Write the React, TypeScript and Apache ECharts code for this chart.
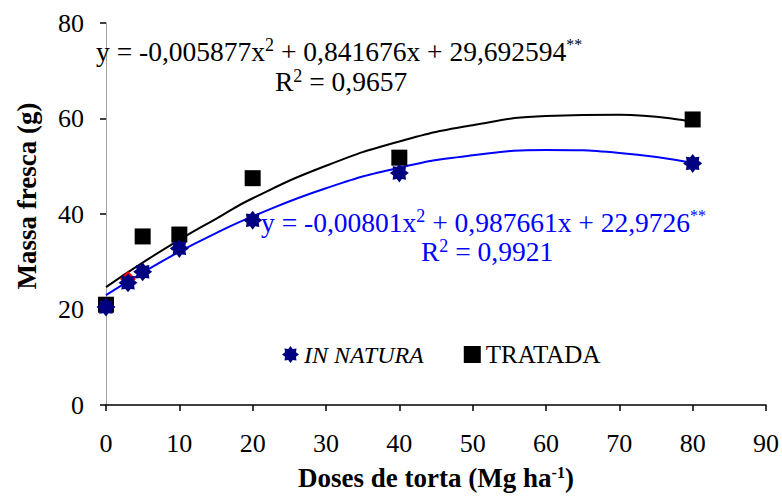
import React, { useEffect, useRef } from "react";
import * as echarts from "echarts";

const FONT = "Liberation Serif";

// Observed points
const inNaturaX = [0, 3, 5, 10, 20, 40, 80];
const inNaturaY = [20.5, 25.6, 27.9, 32.8, 38.7, 48.6, 50.6];
const tratadaX = [0, 3, 5, 10, 20, 40, 80];
const tratadaY = [21, 26.4, 35.3, 35.7, 47.5, 51.8, 59.8];

// Fitted curves
const curveX = [0, 5, 10, 15, 20, 30, 40, 50, 60, 70, 80];
const blueCurveY = [23, 27.7, 32.1, 36, 39.5, 45.4, 49.7, 52.3, 53.4, 52.8, 50.7];
const blackCurveY = [24.7, 29.8, 34.6, 39, 43.3, 50.1, 55.2, 58.6, 60.5, 60.8, 59.3];

const xTicks = { min: 0, max: 90, interval: 10 };
const yTicks = { min: 0, max: 80, interval: 20 };

function starPath(): string {
  const n = 8;
  const R = 10;
  const r = 7;
  const pts: string[] = [];
  for (let i = 0; i < n * 2; i++) {
    const a = (Math.PI * i) / n - Math.PI / 2;
    const rad = i % 2 === 0 ? R : r;
    pts.push(`${(10 + rad * Math.cos(a)).toFixed(2)} ${(10 + rad * Math.sin(a)).toFixed(2)}`);
  }
  return "path://M" + pts.join(" L") + " Z";
}
const STAR = starPath();

const supStyle = (fill: string) => ({
  s: { fontFamily: FONT, fontSize: 18, fill, verticalAlign: "top", padding: [0, 0, 10, 0] },
  a: { fontFamily: FONT, fontSize: 16, fill, verticalAlign: "top", padding: [0, 0, 14, 0] },
});

export default function App() {
  const ref = useRef<HTMLDivElement>(null);
  useEffect(() => {
    if (!ref.current) return;
    const chart = echarts.init(ref.current, undefined, { renderer: "svg" });
    const pair = (xs: number[], ys: number[]) => xs.map((x, i) => [x, ys[i]]);
    const tratadaData = pair(tratadaX, tratadaY).map((p, i) =>
      i === 1
        ? { value: p, symbol: "diamond", symbolSize: 16, itemStyle: { color: "#ff0000" } }
        : { value: p }
    );
    chart.setOption({
      animation: false,
      backgroundColor: "#fff",
      textStyle: { fontFamily: FONT },
      grid: { left: 106, right: 16, top: 23, bottom: 91, containLabel: false },
      xAxis: {
        type: "value",
        ...xTicks,
        name: "Doses de torta (Mg ha{s|-1})",
        nameLocation: "middle",
        nameGap: 59,
        nameTextStyle: {
          fontFamily: FONT,
          fontSize: 27,
          fontWeight: "bold",
          color: "#000",
          rich: {
            s: { fontFamily: FONT, fontSize: 16, fontWeight: "bold", color: "#000", verticalAlign: "top", padding: [0, 0, 10, 0] },
          },
        },
        axisLine: { show: true, lineStyle: { color: "#000", width: 1.5 } },
        axisTick: { show: true, length: 6, lineStyle: { color: "#000", width: 1.5 } },
        axisLabel: { fontFamily: FONT, fontSize: 26, color: "#000", margin: 25 },
        splitLine: { show: false },
      },
      yAxis: {
        type: "value",
        ...yTicks,
        name: "Massa fresca (g)",
        nameLocation: "middle",
        nameGap: 66,
        nameTextStyle: { fontFamily: FONT, fontSize: 27, fontWeight: "bold", color: "#000", padding: [0, 0, 0, 36] },
        axisLine: { show: true, lineStyle: { color: "#a0a0a0", width: 1 } },
        axisTick: { show: true, length: 6, lineStyle: { color: "#000", width: 1.5 } },
        axisLabel: { fontFamily: FONT, fontSize: 26, color: "#000", margin: 22 },
        splitLine: { show: false },
      },
      legend: {
        left: 277,
        top: 337,
        itemGap: 40,
        itemWidth: 17,
        itemHeight: 17,
        textStyle: { fontFamily: FONT, fontSize: 25, color: "#000" },
        data: [
          { name: "IN NATURA", icon: STAR, itemStyle: { color: "#000080", opacity: 1 }, textStyle: { fontStyle: "italic", fontFamily: FONT, fontSize: 24 } },
          { name: "TRATADA", icon: "rect", itemStyle: { color: "#000", opacity: 1 } },
        ],
      },
      series: [
        {
          name: "TRATADA curve",
          type: "line",
          data: pair(curveX, blackCurveY),
          smooth: true,
          showSymbol: false,
          lineStyle: { color: "#000", width: 2 },
          z: 2,
          silent: true,
        },
        {
          name: "IN NATURA curve",
          type: "line",
          data: pair(curveX, blueCurveY),
          smooth: true,
          showSymbol: false,
          lineStyle: { color: "#0000ff", width: 2 },
          z: 2,
          silent: true,
        },
        {
          name: "TRATADA",
          type: "scatter",
          data: tratadaData,
          symbol: "rect",
          symbolSize: 16,
          itemStyle: { color: "#000", opacity: 1 },
          z: 3,
        },
        {
          name: "IN NATURA",
          type: "scatter",
          data: pair(inNaturaX, inNaturaY),
          symbol: STAR,
          symbolSize: 19,
          itemStyle: { color: "#000080", opacity: 1 },
          z: 4,
        },
      ],
      graphic: [
        {
          type: "text",
          left: 96,
          top: 36,
          z: 10,
          style: {
            text: "y = -0,005877x{s|2} + 0,841676x + 29,692594{a|**}",
            fontFamily: FONT,
            fontSize: 27.5,
            fill: "#000",
            rich: supStyle("#000"),
          },
        },
        {
          type: "text",
          left: 275,
          top: 67,
          z: 10,
          style: {
            text: "R{s|2} = 0,9657",
            fontFamily: FONT,
            fontSize: 27.5,
            fill: "#000",
            rich: supStyle("#000"),
          },
        },
        {
          type: "text",
          left: 261,
          top: 207,
          z: 10,
          style: {
            text: "y = -0,00801x{s|2} + 0,987661x + 22,9726{a|**}",
            fontFamily: FONT,
            fontSize: 27.5,
            fill: "#0000ff",
            rich: supStyle("#0000ff"),
          },
        },
        {
          type: "text",
          left: 421,
          top: 237,
          z: 10,
          style: {
            text: "R{s|2} = 0,9921",
            fontFamily: FONT,
            fontSize: 27.5,
            fill: "#0000ff",
            rich: supStyle("#0000ff"),
          },
        },
      ],
    });
    return () => chart.dispose();
  }, []);
  return <div ref={ref} style={{ width: 782, height: 496, position: "absolute", left: 0, top: 0 }} />;
}
